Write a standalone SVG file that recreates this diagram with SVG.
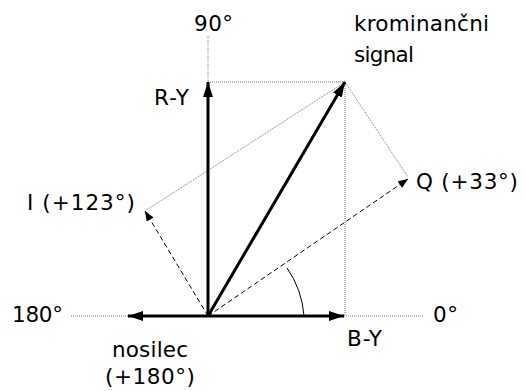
<svg xmlns="http://www.w3.org/2000/svg" width="525" height="391" viewBox="0 0 525 391">
<style>
text{font-family:"DejaVu Sans",Verdana,sans-serif;font-size:21.5px;fill:#000}
.thick{stroke:#000;stroke-width:3;fill:none}
.dash{stroke:#000;stroke-width:1;stroke-dasharray:5,3;fill:none}
.dot{stroke:#777;stroke-width:1;stroke-dasharray:1,1;fill:none}
</style>
<defs>
<marker id="big" markerWidth="16" markerHeight="12" refX="15" refY="6" orient="auto" markerUnits="userSpaceOnUse">
<path d="M0,1 L15,6 L0,11 Z" fill="#000"/>
</marker>
<marker id="small" markerWidth="10" markerHeight="8" refX="10" refY="4" orient="auto" markerUnits="userSpaceOnUse">
<path d="M0,0 L10,4 L0,8 Z" fill="#000"/>
</marker>
</defs>
<rect width="525" height="391" fill="#fff"/>
<g id="connectors">
<line class="dot" x1="208" y1="36" x2="208" y2="82"/>
<line class="dot" x1="208" y1="82" x2="345" y2="82"/>
<line class="dot" x1="345" y1="82" x2="345" y2="316"/>
<line class="dot" x1="71" y1="316" x2="128" y2="316"/>
<line class="dot" x1="344" y1="316" x2="423" y2="316"/>
<line class="dot" x1="345" y1="82" x2="145" y2="211"/>
<line class="dot" x1="345" y1="82" x2="408" y2="177"/>
<line class="dash" x1="208" y1="316" x2="145" y2="211" marker-end="url(#small)"/>
<line class="dash" x1="208" y1="316" x2="408" y2="179" marker-end="url(#small)"/>
<line class="thick" x1="208" y1="316" x2="208" y2="82" marker-end="url(#big)"/>
<line class="thick" x1="208" y1="316" x2="344" y2="316" marker-end="url(#big)"/>
<line class="thick" x1="208" y1="316" x2="128" y2="316" marker-end="url(#big)"/>
<line class="thick" x1="208" y1="316" x2="345" y2="82" marker-end="url(#big)"/>
<path d="M287,268 A96,96 0 0 1 304,316" stroke="#000" stroke-width="1" fill="none"/>
</g>
<g id="label-90"><text x="194" y="31" textLength="39">90°</text></g>
<g id="label-chroma"><text x="354" y="31" textLength="135">krominančni</text><text x="354" y="62" textLength="60">signal</text></g>
<g id="label-RY"><text x="154" y="105" textLength="35">R-Y</text></g>
<g id="label-I"><text x="27" y="210" textLength="108">I (+123°)</text></g>
<g id="label-Q"><text x="416" y="189" textLength="102">Q (+33°)</text></g>
<g id="label-180"><text x="12" y="322" textLength="51">180°</text></g>
<g id="label-0"><text x="433" y="322" textLength="25">0°</text></g>
<g id="label-BY"><text x="347" y="346" textLength="35">B-Y</text></g>
<g id="label-nosilec"><text x="112" y="357" textLength="76">nosilec</text><text x="105" y="384" textLength="90">(+180°)</text></g>
</svg>
